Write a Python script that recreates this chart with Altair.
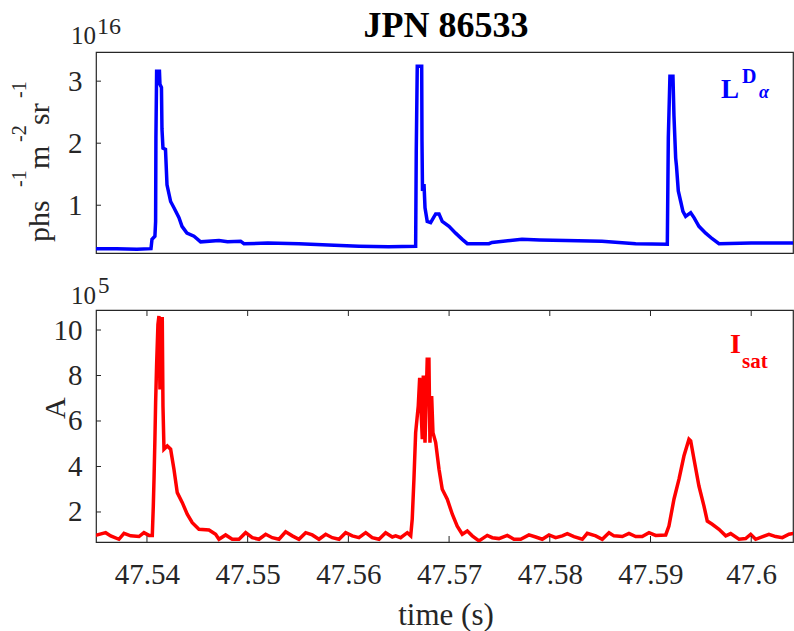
import altair as alt
import pandas as pd

# ---------------- data ----------------
blue_t = [47.53484, 47.53700, 47.53900, 47.54040, 47.54050, 47.54079, 47.54086, 47.54089,
          47.54096, 47.54124, 47.54129, 47.54144, 47.54149, 47.54159, 47.54184, 47.54199,
          47.54235, 47.54268, 47.54318, 47.54348, 47.54397, 47.54467, 47.54533, 47.54715,
          47.54800, 47.54930, 47.54963, 47.55200, 47.55509, 47.55800, 47.56105, 47.56400,
          47.56668, 47.56674, 47.56684, 47.56728, 47.56731, 47.56736, 47.56751, 47.56761,
          47.56783, 47.56817, 47.56867, 47.56900, 47.56932, 47.56999, 47.57065, 47.57131,
          47.57181, 47.57396, 47.57426, 47.57724, 47.57900, 47.58158, 47.58518, 47.58853,
          47.59167, 47.59177, 47.59193, 47.59223, 47.59233, 47.59250, 47.59258, 47.59276,
          47.59300, 47.59322, 47.59349, 47.59399, 47.59432, 47.59481, 47.59548, 47.59613,
          47.59680, 47.60000, 47.60460]
blue_v = [0.30, 0.30, 0.29, 0.30, 0.45, 0.50, 0.74, 2.08,
          3.16, 3.16, 2.95, 2.90, 2.23, 1.92, 1.90, 1.33,
          1.06, 0.96, 0.80, 0.66, 0.55, 0.50, 0.41, 0.43,
          0.41, 0.42, 0.38, 0.39, 0.38, 0.36, 0.34, 0.33,
          0.34, 1.87, 3.24, 3.24, 2.03, 1.23, 1.34, 0.96,
          0.74, 0.72, 0.86, 0.86, 0.74, 0.66, 0.55, 0.45,
          0.38, 0.38, 0.40, 0.45, 0.44, 0.43, 0.42, 0.38,
          0.37, 2.09, 3.08, 3.08, 2.44, 1.76, 1.63, 1.23,
          1.06, 0.90, 0.82, 0.88, 0.80, 0.66, 0.55, 0.46,
          0.38, 0.39, 0.39]

red_t = [47.53474, 47.53590, 47.53640, 47.53722, 47.53772, 47.53838, 47.53921, 47.53970,
         47.54020, 47.54053, 47.54063, 47.54070, 47.54079, 47.54086, 47.54096, 47.54109,
         47.54119, 47.54129, 47.54136, 47.54152, 47.54159, 47.54169, 47.54202, 47.54235,
         47.54268, 47.54301, 47.54351, 47.54400, 47.54450, 47.54516, 47.54616, 47.54682,
         47.54715, 47.54781, 47.54847, 47.54914, 47.54980, 47.55046, 47.55112, 47.55179,
         47.55244, 47.55311, 47.55377, 47.55443, 47.55509, 47.55576, 47.55641, 47.55708,
         47.55775, 47.55840, 47.55907, 47.55973, 47.56039, 47.56105, 47.56172, 47.56237,
         47.56304, 47.56370, 47.56436, 47.56470, 47.56519, 47.56585, 47.56619, 47.56634,
         47.56651, 47.56668, 47.56694, 47.56708, 47.56734, 47.56744, 47.56761, 47.56783,
         47.56800, 47.56810, 47.56827, 47.56840, 47.56867, 47.56900, 47.56932, 47.56982,
         47.57032, 47.57081, 47.57131, 47.57181, 47.57230, 47.57297, 47.57379, 47.57429,
         47.57495, 47.57578, 47.57644, 47.57711, 47.57793, 47.57860, 47.57925, 47.57992,
         47.58058, 47.58124, 47.58174, 47.58240, 47.58323, 47.58372, 47.58456, 47.58521,
         47.58588, 47.58637, 47.58720, 47.58786, 47.58853, 47.58918, 47.58985, 47.59051,
         47.59151, 47.59183, 47.59233, 47.59283, 47.59332, 47.59382, 47.59399, 47.59432,
         47.59481, 47.59531, 47.59564, 47.59613, 47.59680, 47.59747, 47.59796, 47.59879,
         47.59945, 47.59995, 47.60044, 47.60176, 47.60243, 47.60309, 47.60375, 47.60460]
red_v = [0.95, 1.09, 0.95, 0.80, 1.06, 0.95, 0.92, 1.09,
         0.97, 0.97, 2.26, 3.44, 5.20, 6.80, 8.49, 10.25,
         10.62, 7.39, 10.50, 10.50, 6.66, 4.76, 4.90, 4.76,
         3.88, 2.85, 2.41, 1.90, 1.53, 1.24, 1.21, 1.02,
         0.80, 0.99, 0.80, 0.80, 1.09, 0.87, 0.80, 1.02,
         0.87, 0.80, 1.13, 0.95, 0.80, 1.09, 0.99, 0.80,
         1.02, 0.87, 0.80, 1.09, 0.95, 0.87, 1.09, 0.87,
         0.80, 1.09, 0.90, 0.95, 0.87, 1.09, 0.95, 1.68,
         3.44, 5.49, 6.66, 7.90, 5.20, 8.00, 5.05, 8.71,
         8.71, 5.05, 7.10, 5.49, 5.05, 3.88, 3.00, 2.56,
         1.90, 1.38, 1.02, 1.16, 0.95, 0.73, 0.97, 0.87,
         0.83, 0.97, 0.80, 0.80, 0.99, 0.90, 0.80, 0.99,
         0.87, 0.95, 1.05, 0.92, 0.80, 1.06, 0.95, 0.80,
         1.09, 0.95, 0.92, 1.06, 0.92, 0.92, 1.09, 0.97,
         0.99, 1.38, 2.56, 3.44, 4.46, 5.20, 5.13, 4.32,
         3.14, 2.26, 1.60, 1.46, 1.24, 0.95, 1.05, 0.80,
         0.83, 1.02, 0.80, 1.02, 0.92, 0.87, 1.02, 1.09]

x_domain = [47.53494, 47.60415]
top_domain = [0.23, 3.47]
bot_domain = [0.68, 10.88]
top_ticks = [1, 2, 3]
bot_ticks = [2, 4, 6, 8, 10]
time_ticks = [47.54, 47.55, 47.56, 47.57, 47.58, 47.59, 47.60]

FONT = "Liberation Serif"
AXC = "#262626"
W = 697
H_TOP = 201
H_BOT = 232
TICKFS = 29

xs = alt.Scale(domain=x_domain, nice=False, zero=False)


def txt(text, x, y, size, color=AXC, weight="normal", style="normal", angle=0, align="left"):
    return alt.Chart(alt.Data(values=[{}])).mark_text(
        text=text, font=FONT, fontSize=size, color=color, fontWeight=weight,
        fontStyle=style, angle=angle, align=align, baseline="alphabetic"
    ).encode(x=alt.value(x), y=alt.value(y))


def yaxis(vals):
    return alt.Axis(values=vals, format="d", title=None, labelFont=FONT, labelFontSize=TICKFS,
                    labelColor=AXC, labelPadding=14, ticks=False, tickSize=0,
                    domain=False, grid=False)


# ---------------- top panel ----------------
blue_df = pd.DataFrame({"t": blue_t, "v": blue_v})
ys_top = alt.Scale(domain=top_domain, nice=False, zero=False)

top_line = alt.Chart(blue_df).mark_line(color="#0000FF", strokeWidth=3.5, clip=True).encode(
    x=alt.X("t:Q", scale=xs, axis=None),
    y=alt.Y("v:Q", scale=ys_top, axis=yaxis(top_ticks)),
)
top_tk = alt.Chart(pd.DataFrame({"v": top_ticks})).mark_rule(color=AXC, strokeWidth=1).encode(
    y=alt.Y("v:Q", scale=ys_top), x=alt.value(0), x2=alt.value(5)
)

top = alt.layer(
    top_line, top_tk,
    txt("JPN 86533", 350, -15, 36, color="#000000", weight="bold", align="center"),
    txt("10", 0, -8, 25, align="right"),
    txt("16", 1, -18, 24),
    txt("phs", -47, 190, 30, angle=270),
    txt("-1", -70, 135, 20, angle=270),
    txt("m", -47, 117, 30, angle=270),
    txt("-2", -70, 90, 20, angle=270),
    txt("sr", -47, 73, 30, angle=270),
    txt("-1", -70, 46, 20, angle=270),
    txt("L", 625, 46, 27, color="#0000FF", weight="bold"),
    txt("D", 646, 31, 20, color="#0000FF", weight="bold"),
    txt("α", 663, 46, 18, color="#0000FF", weight="bold", style="italic"),
).properties(width=W, height=H_TOP)

# ---------------- bottom panel ----------------
red_df = pd.DataFrame({"t": red_t, "v": red_v})
ys_bot = alt.Scale(domain=bot_domain, nice=False, zero=False)

bot_line = alt.Chart(red_df).mark_line(color="#FF0000", strokeWidth=3.5, clip=True).encode(
    x=alt.X("t:Q", scale=xs, axis=alt.Axis(values=time_ticks, format=".2~f", title=None,
                                           labelFont=FONT, labelFontSize=TICKFS, labelColor=AXC,
                                           labelPadding=18, ticks=False, tickSize=0,
                                           domain=False, grid=False)),
    y=alt.Y("v:Q", scale=ys_bot, axis=yaxis(bot_ticks)),
)
bot_ytk = alt.Chart(pd.DataFrame({"v": bot_ticks})).mark_rule(color=AXC, strokeWidth=1).encode(
    y=alt.Y("v:Q", scale=ys_bot), x=alt.value(0), x2=alt.value(5)
)
tdf = pd.DataFrame({"t": time_ticks})
bot_xtk_b = alt.Chart(tdf).mark_rule(color=AXC, strokeWidth=1).encode(
    x=alt.X("t:Q", scale=xs), y=alt.value(H_BOT), y2=alt.value(H_BOT - 6)
)
bot_xtk_t = alt.Chart(tdf).mark_rule(color=AXC, strokeWidth=1).encode(
    x=alt.X("t:Q", scale=xs), y=alt.value(0), y2=alt.value(6)
)

bottom = alt.layer(
    bot_line, bot_ytk, bot_xtk_b, bot_xtk_t,
    txt("10", 0, -6, 25, align="right"),
    txt("5", 2, -17, 23),
    txt("A", -31, 109, 30, angle=270),
    txt("time (s)", 350, 315, 31, align="center"),
    txt("I", 634, 43, 28, color="#FF0000", weight="bold"),
    txt("sat", 646, 58, 21, color="#FF0000", weight="bold"),
).properties(width=W, height=H_BOT)

chart = alt.vconcat(top, bottom, spacing=57, bounds="flush").properties(
    padding={"left": 9, "top": 7, "right": 0, "bottom": 0},
    background="white",
).configure_view(stroke=AXC, strokeWidth=1.2)

chart.save("out.html", embed_options={"renderer": "svg", "actions": False})
